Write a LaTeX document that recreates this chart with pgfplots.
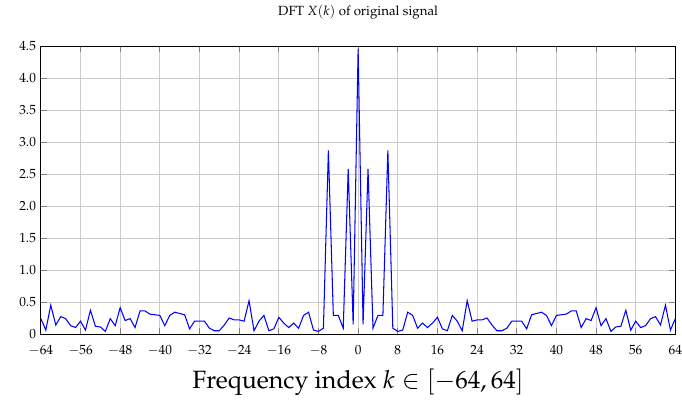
\documentclass[border={10.5pt 0pt 0pt 0pt}]{standalone}
\usepackage[T1]{fontenc}
\usepackage{mathpazo}
\usepackage{pgfplots}
\pgfplotsset{compat=1.18}

\begin{document}
\begin{tikzpicture}
\begin{axis}[
  scale only axis,
  width=454pt, height=206pt,
  xmin=-64, xmax=64, ymin=0, ymax=4.5,
  xtick={-64,-56,...,64},
  ytick={0,0.5,1,1.5,2,2.5,3,3.5,4,4.5},
  yticklabels={0,0.5,1.0,1.5,2.0,2.5,3.0,3.5,4.0,4.5},
  tick label style={font=\fontsize{9.5}{11}\selectfont},
  xticklabel style={yshift=-4.5pt, inner xsep=0pt},
  grid=major,
  major grid style={gray!40, line width=0.6pt},
  tick style={gray, line width=0.6pt},
  axis line style={black, line width=0.6pt},
  title={DFT $X(k)$ of original signal},
  title style={font=\fontsize{9.5}{11}\selectfont, yshift=10pt},
  xlabel={Frequency index $k \in [-64, 64]$},
  xlabel style={font=\fontsize{17.9}{21}\selectfont, yshift=-2.5pt},
]
\addplot[blue, line width=0.75pt, no markers] table {
k   mag
-64 0.24
-63 0.06
-62 0.45
-61 0.14
-60 0.27
-59 0.24
-58 0.13
-57 0.10
-56 0.20
-55 0.06
-54 0.37
-53 0.12
-52 0.11
-51 0.04
-50 0.24
-49 0.13
-48 0.41
-47 0.21
-46 0.24
-45 0.10
-44 0.36
-43 0.36
-42 0.31
-41 0.30
-40 0.29
-39 0.13
-38 0.29
-37 0.34
-36 0.32
-35 0.30
-34 0.08
-33 0.20
-32 0.20
-31 0.20
-30 0.09
-29 0.05
-28 0.05
-27 0.14
-26 0.25
-25 0.22
-24 0.22
-23 0.20
-22 0.52
-21 0.05
-20 0.20
-19 0.29
-18 0.05
-17 0.08
-16 0.26
-15 0.17
-14 0.10
-13 0.17
-12 0.09
-11 0.29
-10 0.34
-9  0.06
-8  0.04
-7  0.09
-6  2.87
-5  0.29
-4  0.29
-3  0.09
-2  2.58
-1  0.15
0   4.46
1   0.15
2   2.58
3   0.09
4   0.29
5   0.29
6   2.87
7   0.09
8   0.04
9   0.06
10  0.34
11  0.29
12  0.09
13  0.17
14  0.10
15  0.17
16  0.26
17  0.08
18  0.05
19  0.29
20  0.20
21  0.05
22  0.52
23  0.20
24  0.22
25  0.22
26  0.25
27  0.14
28  0.05
29  0.05
30  0.09
31  0.20
32  0.20
33  0.20
34  0.08
35  0.30
36  0.32
37  0.34
38  0.29
39  0.13
40  0.29
41  0.30
42  0.31
43  0.36
44  0.36
45  0.10
46  0.24
47  0.21
48  0.41
49  0.13
50  0.24
51  0.04
52  0.11
53  0.12
54  0.37
55  0.06
56  0.20
57  0.10
58  0.13
59  0.24
60  0.27
61  0.14
62  0.45
63  0.06
64  0.24
};
\end{axis}
\end{tikzpicture}
\end{document}
